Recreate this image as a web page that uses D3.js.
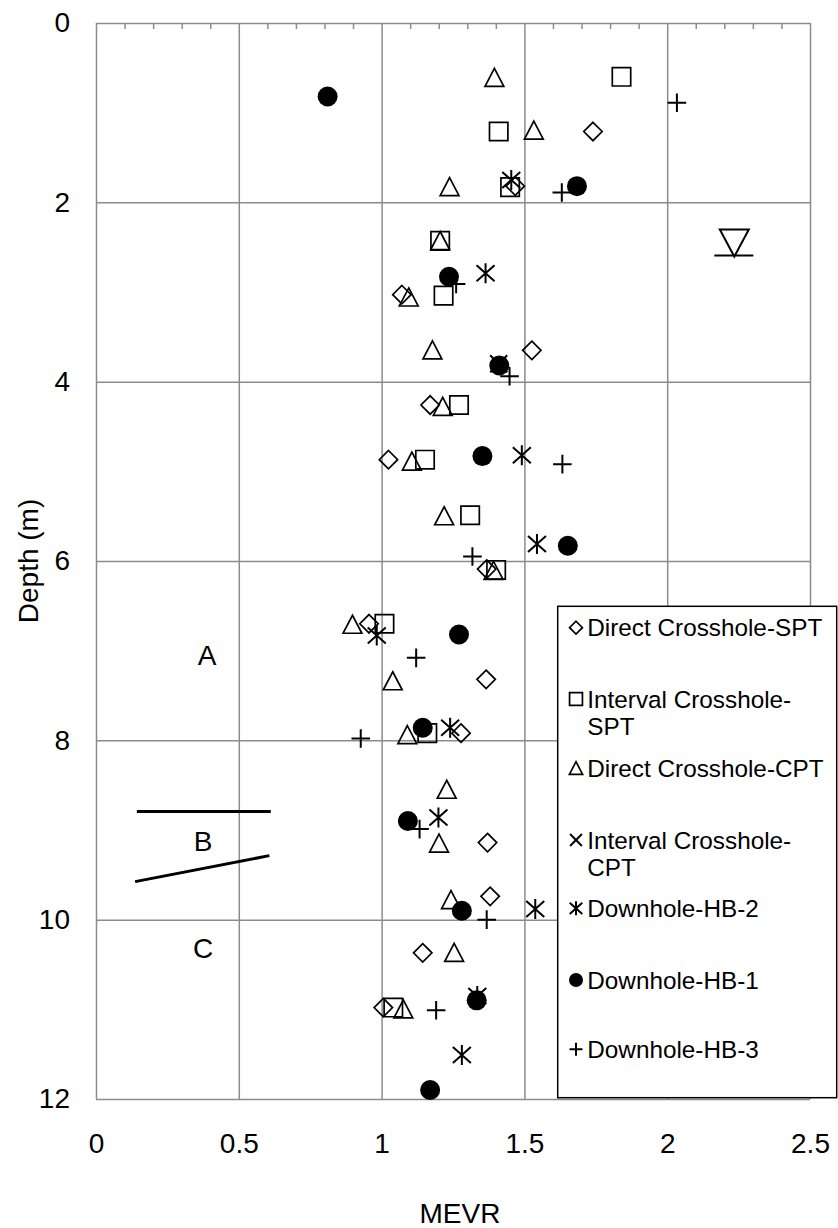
<!DOCTYPE html>
<html>
<head>
<meta charset="utf-8">
<script src="https://cdn.jsdelivr.net/npm/d3@7"></script>
<style>
  body { margin: 0; background: #fff; }
  svg { display: block; font-family: "Liberation Sans", Arial, sans-serif; }
</style>
</head>
<body>
<svg id="chart"></svg>
<script>
// series data: [depth (m), MEVR]
var directSPT = [[1.21,1.74],[1.82,1.468],[3.03,1.071],[3.65,1.526],[4.26,1.17],[4.87,1.024],[6.09,1.368],
  [6.70,0.956],[7.32,1.366],[7.92,1.278],[9.14,1.371],[9.74,1.38],[10.37,1.144],[10.98,1.006]];
var intervalSPT = [[0.60,1.84],[1.21,1.41],[1.83,1.45],[2.43,1.205],[3.04,1.217],[4.26,1.271],[4.87,1.152],
  [5.49,1.31],[6.10,1.401],[6.70,1.01],[7.92,1.16],[10.98,1.041]];
var directCPT = [[0.61,1.395],[1.20,1.533],[1.83,1.238],[2.43,1.205],[3.06,1.095],[3.65,1.178],[4.28,1.214],
  [4.89,1.106],[5.50,1.219],[6.11,1.392],[6.71,0.898],[7.34,1.039],[7.94,1.09],[8.55,1.228],[9.15,1.201],
  [9.78,1.243],[10.37,1.254],[11.00,1.076]];
var intervalCPT = [[3.80,1.41]];
var hb2 = [[1.75,1.454],[2.79,1.364],[4.82,1.491],[5.81,1.544],[6.83,0.983],[7.86,1.24],[8.86,1.199],
  [9.88,1.538],[10.85,1.335],[11.51,1.281]];
var hb1 = [[0.82,0.811],[1.82,1.684],[2.83,1.236],[3.82,1.412],[4.83,1.353],[5.83,1.652],[6.82,1.271],
  [7.86,1.144],[8.90,1.092],[9.90,1.281],[10.90,1.333],[11.90,1.17]];
var hb3 = [[0.89,2.034],[1.89,1.631],[2.91,1.261],[3.94,1.448],[4.92,1.633],[5.95,1.318],[7.08,1.121],
  [7.98,0.927],[8.99,1.133],[10.00,1.368],[11.01,1.191]];

var legendLines = [["Direct Crosshole-SPT"], ["Interval Crosshole-", "SPT"], ["Direct Crosshole-CPT"],
  ["Interval Crosshole-", "CPT"], ["Downhole-HB-2"], ["Downhole-HB-1"], ["Downhole-HB-3"]];
var seriesShapes = ["diamond", "square", "triangle", "x", "asterisk", "circle", "plus"];

var xTicks = [0, 0.5, 1, 1.5, 2, 2.5];
var yTicks = [0, 2, 4, 6, 8, 10, 12];

// soil layer labels and boundaries, water table (data units: [mevr, depth])
var layerLabels = [["A", 0.389, 7.05], ["B", 0.375, 9.12], ["C", 0.375, 10.31]];
var layerBounds = [[[0.143, 8.795], [0.612, 8.795]], [[0.137, 9.576], [0.607, 9.286]]];
var waterTable = [2.235, 2.594];

var W = 838, H = 1228;
var svg = d3.select("#chart").attr("width", W).attr("height", H);

var x = d3.scaleLinear().domain([0, 2.5]).range([96, 810]);
var y = d3.scaleLinear().domain([0, 12]).range([23, 1099]);

var gridColor = "#8c8c8c";

// grid
svg.append("g")
    .attr("transform", "translate(0," + y(12) + ")")
    .call(d3.axisBottom(x).tickValues(xTicks).tickSize(-(y(12) - y(0))).tickFormat(""))
    .call(function(g) { g.select(".domain").remove(); })
    .selectAll("line").attr("stroke", gridColor).attr("stroke-width", 1.5);

svg.append("g")
    .attr("transform", "translate(" + x(0) + ",0)")
    .call(d3.axisLeft(y).tickValues(yTicks).tickSize(-(x(2.5) - x(0))).tickFormat(""))
    .call(function(g) { g.select(".domain").remove(); })
    .selectAll("line").attr("stroke", gridColor).attr("stroke-width", 1.5);

// minor ticks along the top
var minor = d3.range(1, 25).filter(function(i) { return i % 5 != 0; }).map(function(i) { return i / 10; });
svg.append("g")
    .attr("transform", "translate(0," + y(0) + ")")
    .call(d3.axisBottom(x).tickValues(minor).tickSize(6).tickFormat(""))
    .call(function(g) { g.select(".domain").remove(); })
    .selectAll("line").attr("stroke", gridColor).attr("stroke-width", 1.5);

// tick labels
var xAxis = svg.append("g")
    .attr("transform", "translate(0," + y(12) + ")")
    .call(d3.axisBottom(x).tickValues(xTicks).tickSize(0).tickPadding(34).tickFormat(function(d) { return String(d); }));
xAxis.select(".domain").remove();
xAxis.selectAll("text").style("font-size", "28px").attr("fill", "#000")
    .style("font-family", "'Liberation Sans', Arial, sans-serif");

var yAxis = svg.append("g")
    .attr("transform", "translate(" + x(0) + ",0)")
    .call(d3.axisLeft(y).tickValues(yTicks).tickSize(0).tickPadding(26).tickFormat(function(d) { return String(d); }));
yAxis.select(".domain").remove();
yAxis.selectAll("text").style("font-size", "28px").attr("fill", "#000")
    .style("font-family", "'Liberation Sans', Arial, sans-serif");

svg.append("text")
    .attr("transform", "translate(37.5,561) rotate(-90)")
    .style("text-anchor", "middle")
    .style("font-size", "28px")
    .text("Depth (m)");

svg.append("text")
    .attr("x", 460)
    .attr("y", 1223)
    .style("text-anchor", "middle")
    .style("font-size", "28px")
    .text("MEVR");

// layer annotations
svg.selectAll("text.layer")
    .data(layerLabels)
  .enter().append("text")
    .attr("class", "layer")
    .attr("x", function(d) { return x(d[1]); })
    .attr("y", function(d) { return y(d[2]); })
    .attr("dy", "0.36em")
    .style("text-anchor", "middle")
    .style("font-size", "28px")
    .text(function(d) { return d[0]; });

svg.selectAll("line.bound")
    .data(layerBounds)
  .enter().append("line")
    .attr("class", "bound")
    .attr("x1", function(d) { return x(d[0][0]); })
    .attr("y1", function(d) { return y(d[0][1]); })
    .attr("x2", function(d) { return x(d[1][0]); })
    .attr("y2", function(d) { return y(d[1][1]); })
    .attr("stroke", "#000")
    .attr("stroke-width", 3);

// water table symbol
var wx = x(waterTable[0]), wy = y(waterTable[1]);
svg.append("path")
    .attr("d", "M" + (wx - 14.5) + "," + (wy - 26) + "L" + (wx + 14.5) + "," + (wy - 26) + "L" + wx + "," + (wy + 1) + "Z")
    .attr("fill", "none").attr("stroke", "#000").attr("stroke-width", 2);
svg.append("line")
    .attr("x1", wx - 20).attr("x2", wx + 19)
    .attr("y1", wy).attr("y2", wy)
    .attr("stroke", "#000").attr("stroke-width", 2);

// marker shapes
function markerPath(shape, k) {
  var r;
  switch (shape) {
    case "diamond": r = 9.2 * k;
      return "M0," + (-r) + "L" + r + ",0L0," + r + "L" + (-r) + ",0Z";
    case "square": r = 9.2 * k;
      return "M" + (-r) + "," + (-r) + "H" + r + "V" + r + "H" + (-r) + "Z";
    case "triangle":
      return "M0," + (-9.4 * k) + "L" + (9.4 * k) + "," + (8.6 * k) + "L" + (-9.4 * k) + "," + (8.6 * k) + "Z";
    case "circle": r = 10 * k;
      return "M" + r + ",0A" + r + "," + r + " 0 1,1 " + (-r) + ",0A" + r + "," + r + " 0 1,1 " + r + ",0Z";
    case "plus": r = 9.3 * k;
      return "M" + (-r) + ",0H" + r + "M0," + (-r) + "V" + r;
    case "x": r = 8.5 * k;
      return "M" + (-r) + "," + (-r) + "L" + r + "," + r + "M" + (-r) + "," + r + "L" + r + "," + (-r);
    case "asterisk":
      return "M" + (-9 * k) + "," + (-8 * k) + "L" + (9 * k) + "," + (8 * k) +
             "M" + (-9 * k) + "," + (8 * k) + "L" + (9 * k) + "," + (-8 * k) +
             "M0," + (-10 * k) + "V" + (10 * k);
  }
}

function styleMarker(sel, shape) {
  if (shape == "circle") {
    sel.attr("fill", "#000").attr("stroke", "none");
  } else {
    sel.attr("fill", "none").attr("stroke", "#000")
       .attr("stroke-width", (shape == "plus" || shape == "x" || shape == "asterisk") ? 2 : 1.7);
  }
}

var allSeries = [directSPT, intervalSPT, directCPT, intervalCPT, hb2, hb1, hb3];

allSeries.forEach(function(data, i) {
  var shape = seriesShapes[i];
  svg.append("g").selectAll("path")
      .data(data)
    .enter().append("path")
      .attr("transform", function(d) { return "translate(" + x(d[1]) + "," + y(d[0]) + ")"; })
      .attr("d", markerPath(shape, 1))
      .call(styleMarker, shape);
});

// legend
var legend = svg.append("g");
legend.append("rect")
    .attr("x", 557.7).attr("y", 606.3)
    .attr("width", 279).attr("height", 491.4)
    .attr("fill", "#fff").attr("stroke", "#000").attr("stroke-width", 1.5);

var legendY = [627.7, 699, 768.3, 840, 908.3, 980, 1049.3];
legendLines.forEach(function(lines, i) {
  var shape = seriesShapes[i];
  legend.append("path")
      .attr("transform", "translate(576," + legendY[i] + ")")
      .attr("d", markerPath(shape, 0.7))
      .call(styleMarker, shape);
  var t = legend.append("text")
      .attr("y", legendY[i])
      .style("font-size", "24.3px");
  lines.forEach(function(s, j) {
    t.append("tspan").attr("x", 587.3).attr("dy", j == 0 ? "0.36em" : "27px").text(s);
  });
});
</script>
</body>
</html>
